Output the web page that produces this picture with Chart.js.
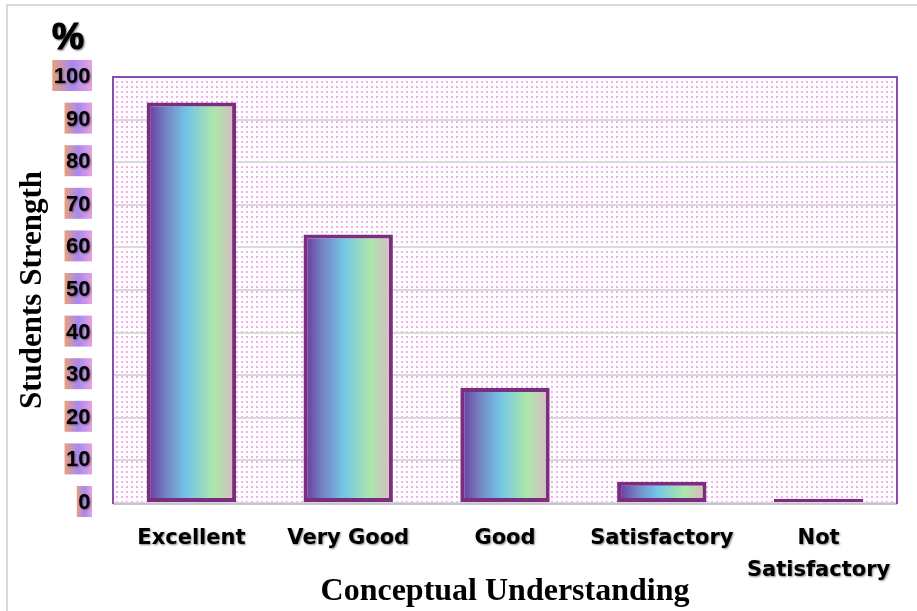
<!DOCTYPE html>
<html>
<head>
<meta charset="utf-8">
<script src="https://cdn.jsdelivr.net/npm/chart.js@4/dist/chart.umd.min.js"></script>
<style>
  html, body { margin: 0; padding: 0; background: #fff; }
  #wrap { width: 917px; height: 611px; position: relative; }
</style>
</head>
<body>
<div id="wrap"><canvas id="chart" width="917" height="611"></canvas></div>
<script>
const categories = ['Excellent', 'Very Good', 'Good', 'Satisfactory', ['Not', 'Satisfactory']];
const strength = [94, 63, 27, 5, 1];
const yTicks = [0, 10, 20, 30, 40, 50, 60, 70, 80, 90, 100];

const BAR_PCT = 0.57;
const X_FONT = 'bold 21px "DejaVu Sans", sans-serif';

function makeDots(ctx) {
    const tile = document.createElement('canvas');
    tile.width = 5;
    tile.height = 5;
    const t = tile.getContext('2d');
    t.fillStyle = '#ffffff';
    t.fillRect(0, 0, 5, 5);
    t.fillStyle = '#eeb0ee';
    t.fillRect(1, 1, 2, 2);
    return ctx.createPattern(tile, 'repeat');
}

function barFill(context) {
    const chart = context.chart;
    const x = chart.scales.x;
    if (!chart.chartArea || !x) return '#70c8e8';
    const i = context.dataIndex;
    const c = x.getPixelForValue(i);
    const half = (x.width / categories.length) * BAR_PCT / 2;
    const g = chart.ctx.createLinearGradient(c - half, 0, c + half, 0);
    g.addColorStop(0, '#67339a');
    g.addColorStop(0.22, '#7585c4');
    g.addColorStop(0.45, '#73c6e6');
    g.addColorStop(0.75, '#ace8aa');
    g.addColorStop(1, '#dcb6c6');
    return g;
}

function shadowOn(ctx) {
    ctx.shadowColor = 'rgba(0,0,0,0.45)';
    ctx.shadowBlur = 2;
    ctx.shadowOffsetX = 1;
    ctx.shadowOffsetY = 1;
}

const plotDecor = {
    id: 'plotDecor',
    beforeDraw(chart) {
        const { ctx, chartArea: a } = chart;
        ctx.save();
        ctx.fillStyle = '#ffffff';
        ctx.fillRect(0, 0, chart.width, chart.height);
        // outer frame
        ctx.strokeStyle = '#d9d9d9';
        ctx.lineWidth = 2;
        ctx.strokeRect(7, 5, chart.width + 10, chart.height + 10);
        ctx.fillStyle = makeDots(ctx);
        ctx.fillRect(a.left, a.top, a.right - a.left, a.bottom - a.top);
        ctx.restore();
    },
    beforeDatasetsDraw(chart) {
        const { ctx, chartArea: a } = chart;
        ctx.save();
        ctx.lineWidth = 2;
        ctx.strokeStyle = '#c8c0cc';
        ctx.beginPath();
        ctx.moveTo(a.left, a.bottom + 1);
        ctx.lineTo(a.right, a.bottom + 1);
        ctx.stroke();
        ctx.strokeStyle = '#8a4cb0';
        ctx.beginPath();
        ctx.moveTo(a.left, a.bottom + 1);
        ctx.lineTo(a.left, a.top);
        ctx.lineTo(a.right, a.top);
        ctx.lineTo(a.right, a.bottom + 1);
        ctx.stroke();
        ctx.restore();
    },
    afterDraw(chart) {
        const { ctx } = chart;
        const y = chart.scales.y;
        const x = chart.scales.x;
        ctx.save();
        // y tick labels on gradient boxes
        ctx.font = 'bold 22px "Liberation Sans", Arial, sans-serif';
        ctx.textAlign = 'right';
        ctx.textBaseline = 'middle';
        const right = 92;
        yTicks.forEach(v => {
            const py = y.getPixelForValue(v);
            const label = String(v);
            const w = ctx.measureText(label).width + 3;
            const g = ctx.createLinearGradient(right - w, 0, right, 0);
            g.addColorStop(0, '#e9a07e');
            g.addColorStop(0.5, '#a788f0');
            g.addColorStop(1, '#e8a2e0');
            ctx.fillStyle = g;
            ctx.fillRect(right - w, py - 17, w, 31);
            shadowOn(ctx);
            ctx.fillStyle = '#000';
            ctx.fillText(label, right - 1.5, py);
            ctx.shadowColor = 'transparent';
        });
        // x tick labels with a soft shadow
        ctx.font = X_FONT;
        ctx.textAlign = 'center';
        ctx.textBaseline = 'middle';
        ctx.fillStyle = '#000';
        shadowOn(ctx);
        categories.forEach((lab, i) => {
            const px = x.getPixelForValue(i);
            const lines = Array.isArray(lab) ? lab : [lab];
            lines.forEach((ln, k) => ctx.fillText(ln, px, 539 + k * 32));
        });
        // percent sign above the axis
        ctx.font = 'bold 36px "Liberation Sans", Arial, sans-serif';
        ctx.lineWidth = 1.2;
        ctx.strokeStyle = '#000';
        ctx.fillText('%', 68, 39);
        ctx.strokeText('%', 68, 39);
        ctx.restore();
    }
};

new Chart(document.getElementById('chart').getContext('2d'), {
    type: 'bar',
    data: {
        labels: categories,
        datasets: [{
            label: 'Students Strength',
            data: strength,
            backgroundColor: barFill,
            borderColor: '#7b2d7f',
            borderWidth: 4,
            borderSkipped: false,
            categoryPercentage: 1,
            barPercentage: BAR_PCT
        }]
    },
    options: {
        responsive: false,
        animation: false,
        layout: { padding: { left: 0, top: 77, right: 20, bottom: 0 } },
        plugins: {
            legend: { display: false },
            tooltip: { enabled: false }
        },
        scales: {
            x: {
                grid: { display: false, drawTicks: false },
                border: { display: false },
                ticks: {
                    color: 'transparent',
                    padding: 21,
                    maxRotation: 0,
                    autoSkip: false,
                    font: { family: '"DejaVu Sans", sans-serif', weight: 'bold', size: 21, lineHeight: 1.52 }
                },
                title: {
                    display: true,
                    text: 'Conceptual Understanding',
                    color: '#000',
                    padding: { top: 2, bottom: 0 },
                    font: { family: '"Liberation Serif", "Times New Roman", serif', weight: 'bold', size: 32 }
                },
                afterFit(scale) { scale.height = 108; }
            },
            y: {
                min: 0,
                max: 100,
                ticks: {
                    stepSize: 10,
                    color: 'transparent',
                    font: { size: 21, weight: 'bold' }
                },
                grid: { color: '#d9d9d9', lineWidth: 2, drawTicks: false },
                border: { display: false },
                title: {
                    display: true,
                    text: 'Students Strength',
                    color: '#000',
                    padding: { top: 14, bottom: 0 },
                    font: { family: '"Liberation Serif", "Times New Roman", serif', weight: 'bold', size: 31 }
                },
                afterFit(scale) { scale.width = 113; }
            }
        }
    },
    plugins: [plotDecor]
});
</script>
</body>
</html>
